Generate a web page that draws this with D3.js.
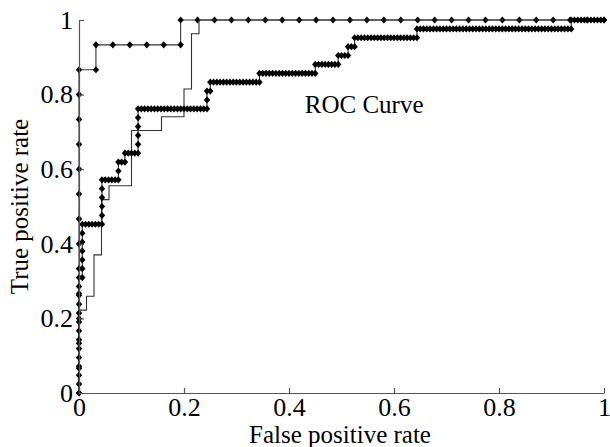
<!DOCTYPE html>
<html>
<head>
<meta charset="utf-8">
<script src="https://cdn.jsdelivr.net/npm/d3@7"></script>
<style>
	html, body { margin: 0; padding: 0; background: #fff; }
	svg { display: block; }
</style>
</head>
<body>
<svg id="chart" width="610" height="447"></svg>
<script>
// sorted sample labels of each classifier, as runs: 'P' = positive, 'N' = negative
const rocARuns = [['P',13],['N',1],['P',1],['N',5],['P',1],['N',25]];
const rocBRuns = [['P',6],['N',1],['P',1],['N',1],['P',3],['N',1],['P',4],['N',1],['P',1],['N',3],
	['P',4],['N',4],['P',1],['N',3],['P',2],['N',1],['P',4],['N',1],['P',1],['N',54]];
const rocCRuns = [['P',13],['N',1],['P',6],['N',6],['P',5],['N',5],['P',2],['N',2],['P',1],['N',4],
	['P',5],['N',21],['P',2],['N',1],['P',1],['N',15],['P',1],['N',17],['P',1],['N',7],
	['P',1],['N',3],['P',1],['N',2],['P',1],['N',19],['P',1],['N',47],['P',1],['N',10]];

const xTicks = [0, 0.2, 0.4, 0.6, 0.8, 1];
const yTicks = [0, 0.2, 0.4, 0.6, 0.8, 1];
const xTitle = 'False positive rate';
const yTitle = 'True positive rate';
const noteText = 'ROC Curve';

function rocPoints(runs){
	let totP = 0, totN = 0;
	runs.forEach(r => { if(r[0] === 'P') totP += r[1]; else totN += r[1]; });
	let tp = 0, fp = 0;
	let pts = [{x: 0, y: 0}];
	runs.forEach(r => {
		for(let i=0; i<r[1]; i++){
			if(r[0] === 'P') tp++; else fp++;
			pts.push({x: fp/totN, y: tp/totP});
		}
	});
	return pts;
}

const plotL = 79, plotR = 604, plotT = 20, plotB = 393;
const fontFam = '"Liberation Serif", "Times New Roman", serif';

const svg = d3.select('#chart');
const x = d3.scaleLinear().domain([0, 1]).range([plotL, plotR]);
const y = d3.scaleLinear().domain([0, 1]).range([plotB, plotT]);

const line = d3.line().x(d => x(d.x)).y(d => y(d.y));
const diamond = 'M0,-3.6L3.2,0L0,3.6L-3.2,0Z';

function drawCurve(pts, marks){
	svg.append('path')
		.datum(pts)
		.attr('fill', 'none')
		.attr('stroke', '#333')
		.attr('stroke-width', 1.1)
		.attr('d', line);
	if(marks){
		svg.append('g').selectAll('path')
			.data(pts)
			.join('path')
			.attr('transform', d => `translate(${x(d.x)},${y(d.y)})`)
			.attr('d', diamond)
			.attr('fill', '#000');
	}
}

drawCurve(rocPoints(rocARuns), true);
drawCurve(rocPoints(rocBRuns), false);
drawCurve(rocPoints(rocCRuns), true);

const xAxis = svg.append('g')
	.attr('transform', `translate(0,${plotB})`)
	.call(d3.axisBottom(x).tickValues(xTicks).tickFormat(d3.format('~g'))
		.tickSizeInner(-5).tickSizeOuter(0).tickPadding(5));
const yAxis = svg.append('g')
	.attr('transform', `translate(${plotL},0)`)
	.call(d3.axisLeft(y).tickValues(yTicks).tickFormat(d3.format('~g'))
		.tickSizeInner(-5).tickSizeOuter(0).tickPadding(6));

[xAxis, yAxis].forEach(g => {
	g.select('.domain').attr('stroke', '#555').attr('stroke-width', 1.2);
	g.selectAll('.tick line').attr('stroke', '#555').attr('stroke-width', 1.2);
	g.selectAll('.tick text')
		.attr('fill', '#000')
		.attr('font-family', fontFam)
		.attr('font-size', '26px');
});

svg.append('text')
	.attr('x', 340)
	.attr('y', 443)
	.attr('text-anchor', 'middle')
	.attr('font-family', fontFam)
	.attr('font-size', '25px')
	.text(xTitle);

svg.append('text')
	.attr('transform', `translate(28,${(plotT + plotB)/2}) rotate(-90)`)
	.attr('text-anchor', 'middle')
	.attr('font-family', fontFam)
	.attr('font-size', '25px')
	.text(yTitle);

svg.append('text')
	.attr('x', x(0.43))
	.attr('y', y(0.75))
	.attr('font-family', fontFam)
	.attr('font-size', '25px')
	.text(noteText);
</script>
</body>
</html>
